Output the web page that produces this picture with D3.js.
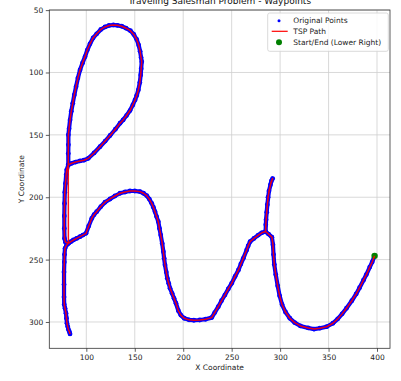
<!DOCTYPE html>
<html>
<head>
<meta charset="utf-8">
<script src="https://cdn.jsdelivr.net/npm/d3@7"></script>
<style>
  html, body { margin: 0; padding: 0; background: #fff; }
  svg { display: block; font-family: "DejaVu Sans", sans-serif; }
</style>
</head>
<body>
<div id="chart"></div>
<script>
// traced waypoints, in TSP order, split where the drawn stroke breaks
const rightCurve = [[397.5,247],[395,252],[392.5,256],[389,262],[386,266.5],[382,272.5],[378.5,277.5],[374,283],[368.5,289],[364,293.5],[359.5,297.5],[354.5,301],[348,303.8],[341,305],[335,305.7],[329,304.8],[321,303.2],[315,300.5],[310,297],[305.5,292],[302,286],[299.5,279],[297.5,271],[295.5,262],[294,254],[293.2,246],[292.6,238],[291.5,232],[288,229.5],[285,227.5]];
// the stick is walked up on one set of points and back down on the other
const stickUp = [[285.5,218],[286.8,206],[288.5,195],[291,187],[292.3,185]];
const stickDown = [[290,190],[287.5,200],[286.2,212],[285.2,222]];
const hump = [[285,227.5],[281,228.5],[277.5,230.3],[273,233],[269,235.6],[267,239],[265.5,242.3],[262,249],[259.5,253.5],[257,258.3],[253.5,263.5],[250,269],[246.5,273.5],[243,278.4],[239.5,283],[236.2,287.7],[232.5,292.5],[229.4,296.5],[223,297.8],[217,298.4],[211,298.6],[206,298.3],[201,297],[197.5,294.5],[195,291],[192.5,285],[190.5,281],[188.5,277],[186.4,273],[185,269],[183.6,265],[182.5,260],[181.2,254.3],[180.3,249],[179.5,243.6],[178.3,237],[176.8,230.3],[175.5,225],[174.3,219.6],[172.5,215.5],[170.9,211.6],[169.2,208],[167.5,204.9],[165,201.5],[162.3,198.7],[159,196.8],[155.4,195.5],[150,195],[145.1,195],[140,195.8],[134.8,196.8],[129.5,199],[124.5,201.4],[119.3,204],[115,207.5],[110.7,211.6],[108,214],[105.6,217],[102.5,223],[99.7,228.9],[96.5,230.3],[93.5,231.6],[90,233],[86.6,234.3],[84,235.6],[81.5,236.9]];
const upperVertical = [[81.5,236.9],[78.5,236],[77.5,233],[77.3,225],[77.3,215],[77.5,205],[77.8,196],[78.5,189],[79.2,182],[79.8,178],[81.4,174]];
const loop = [[81.4,174],[81.4,165],[81.5,158],[81.5,150],[82.2,145],[83.2,138.1],[84.5,131],[86,124.7],[87.6,118],[89.4,111.4],[91.3,104.5],[93.5,98],[96,92.5],[98.7,87.3],[101,82],[103.8,77],[107,72.3],[110.7,69],[115,65.5],[119.3,63.5],[123.5,62.3],[127.9,61.9],[132,62.2],[136.5,62.9],[141,64.5],[145.5,66.5],[149,69.5],[152,73.5],[154,78],[155.5,83],[156.5,88],[157.2,91.4],[156.6,97],[156.1,102],[155.2,108],[153.7,114],[152,118.5],[150.3,122],[148,126],[145.1,130.5],[141.5,134.5],[138,138],[134.8,140.7],[130,145.5],[124.5,150.5],[119.5,155],[114.1,159.5],[108,164.5],[102.1,168.8],[97.5,170.3],[93.5,170.9],[89,171.8],[84.9,172.8],[81.4,174]];
const lowerVertical = [[81.5,236.9],[79.5,238.5],[78,241],[77.5,246],[77.3,252],[77,260],[77,270],[77,280],[77.2,286],[78,289],[79,293],[79.5,297],[80,301],[80.8,303.7],[81.5,306],[82.5,307.8],[83.2,309.6]];

const strokes = [rightCurve, stickUp, stickDown, hump, upperVertical, loop, lowerVertical];
const startEnd = [397.5, 247];
const xTicks = [100, 150, 200, 250, 300, 350, 400];
const yTicks = [50, 100, 150, 200, 250, 300];
const legendLabels = ["Original Points", "TSP Path", "Start/End (Lower Right)"];

const width = 401, height = 381;
const margin = {top: 10, right: 11, bottom: 32.7, left: 49.3};
const innerW = width - margin.left - margin.right;
const innerH = height - margin.top - margin.bottom;

const svg = d3.select("#chart").append("svg")
    .attr("width", width)
    .attr("height", height);

const x = d3.scaleLinear().domain([61.8, 413.4]).range([0, innerW]);
const y = d3.scaleLinear().domain([49.9, 321.1]).range([0, innerH]);

const g = svg.append("g")
    .attr("transform", `translate(${margin.left},${margin.top})`);

// grid
g.append("g").selectAll("line").data(xTicks).enter().append("line")
    .attr("x1", d => x(d)).attr("x2", d => x(d))
    .attr("y1", 0).attr("y2", innerH)
    .attr("stroke", "#cfcfcf").attr("stroke-width", 0.8);
g.append("g").selectAll("line").data(yTicks).enter().append("line")
    .attr("x1", 0).attr("x2", innerW)
    .attr("y1", d => y(d)).attr("y2", d => y(d))
    .attr("stroke", "#cfcfcf").attr("stroke-width", 0.8);

const line = d3.line().x(d => x(d[0])).y(d => y(d[1]));

// original points: dense scatter, drawn as a band plus dots
const bandStrokes = [rightCurve, [rightCurve[rightCurve.length - 1], ...stickUp], hump, upperVertical, loop, lowerVertical];
const pts = g.append("g");
pts.selectAll("path").data(bandStrokes).enter().append("path")
    .attr("d", line)
    .attr("fill", "none")
    .attr("stroke", "#0000ff")
    .attr("stroke-width", 4.2)
    .attr("stroke-linejoin", "round")
    .attr("stroke-linecap", "round");
pts.selectAll("circle").data(strokes.flat()).enter().append("circle")
    .attr("cx", d => x(d[0]))
    .attr("cy", d => y(d[1]))
    .attr("r", 2.4)
    .attr("fill", "#0000ff");

// start / end
g.append("circle")
    .attr("cx", x(startEnd[0]))
    .attr("cy", y(startEnd[1]))
    .attr("r", 3.2)
    .attr("fill", "#008000");

// tsp path: strokes joined end to start
const tspPath = strokes.flat();
g.append("path")
    .attr("d", line(tspPath))
    .attr("fill", "none")
    .attr("stroke", "#ff0000")
    .attr("stroke-width", 1.5)
    .attr("stroke-linejoin", "round")
    .attr("opacity", 0.9);

// axes
const xAxis = g.append("g")
    .attr("transform", `translate(0,${innerH})`)
    .call(d3.axisBottom(x).tickValues(xTicks).tickSize(3.5).tickPadding(2.5));
const yAxis = g.append("g")
    .call(d3.axisLeft(y).tickValues(yTicks).tickSize(3.5).tickPadding(2.5));
[xAxis, yAxis].forEach(a => {
    a.select(".domain").remove();
    a.selectAll("line").attr("stroke", "#333").attr("stroke-width", 0.8);
    a.selectAll("text").attr("font-size", 7.5).attr("fill", "#222")
        .attr("font-family", "DejaVu Sans");
});

g.append("rect")
    .attr("width", innerW).attr("height", innerH)
    .attr("fill", "none").attr("stroke", "#333").attr("stroke-width", 0.8);

// labels
svg.append("text")
    .attr("x", margin.left + innerW / 2).attr("y", 4)
    .attr("text-anchor", "middle")
    .attr("font-size", 9).attr("fill", "#111")
    .text("Traveling Salesman Problem - Waypoints");
svg.append("text")
    .attr("x", margin.left + innerW / 2).attr("y", 370.3)
    .attr("text-anchor", "middle")
    .attr("font-size", 7.5).attr("fill", "#222")
    .text("X Coordinate");
svg.append("text")
    .attr("transform", `translate(24.3,${margin.top + innerH / 2}) rotate(-90)`)
    .attr("text-anchor", "middle")
    .attr("font-size", 7.5).attr("fill", "#222")
    .text("Y Coordinate");

// legend
const lg = svg.append("g").attr("transform", "translate(267.7,13)");
lg.append("rect")
    .attr("width", 120.6).attr("height", 38.3)
    .attr("rx", 2)
    .attr("fill", "#fff").attr("fill-opacity", 0.85)
    .attr("stroke", "#d0d0d0").attr("stroke-width", 0.8);
const rowY = [7.7, 18.3, 29.3];
lg.append("circle").attr("cx", 11.3).attr("cy", rowY[0]).attr("r", 1.5).attr("fill", "#0000ff");
lg.append("line").attr("x1", 4).attr("x2", 20).attr("y1", rowY[1]).attr("y2", rowY[1])
    .attr("stroke", "#ff0000").attr("stroke-width", 1.2);
lg.append("circle").attr("cx", 11.3).attr("cy", rowY[2]).attr("r", 3).attr("fill", "#008000");
lg.selectAll("text.lbl").data(legendLabels).enter().append("text")
    .attr("class", "lbl")
    .attr("x", 25.6).attr("y", (d, i) => rowY[i])
    .attr("dy", "0.35em")
    .attr("font-size", 7.5).attr("fill", "#222")
    .text(d => d);
</script>
</body>
</html>
